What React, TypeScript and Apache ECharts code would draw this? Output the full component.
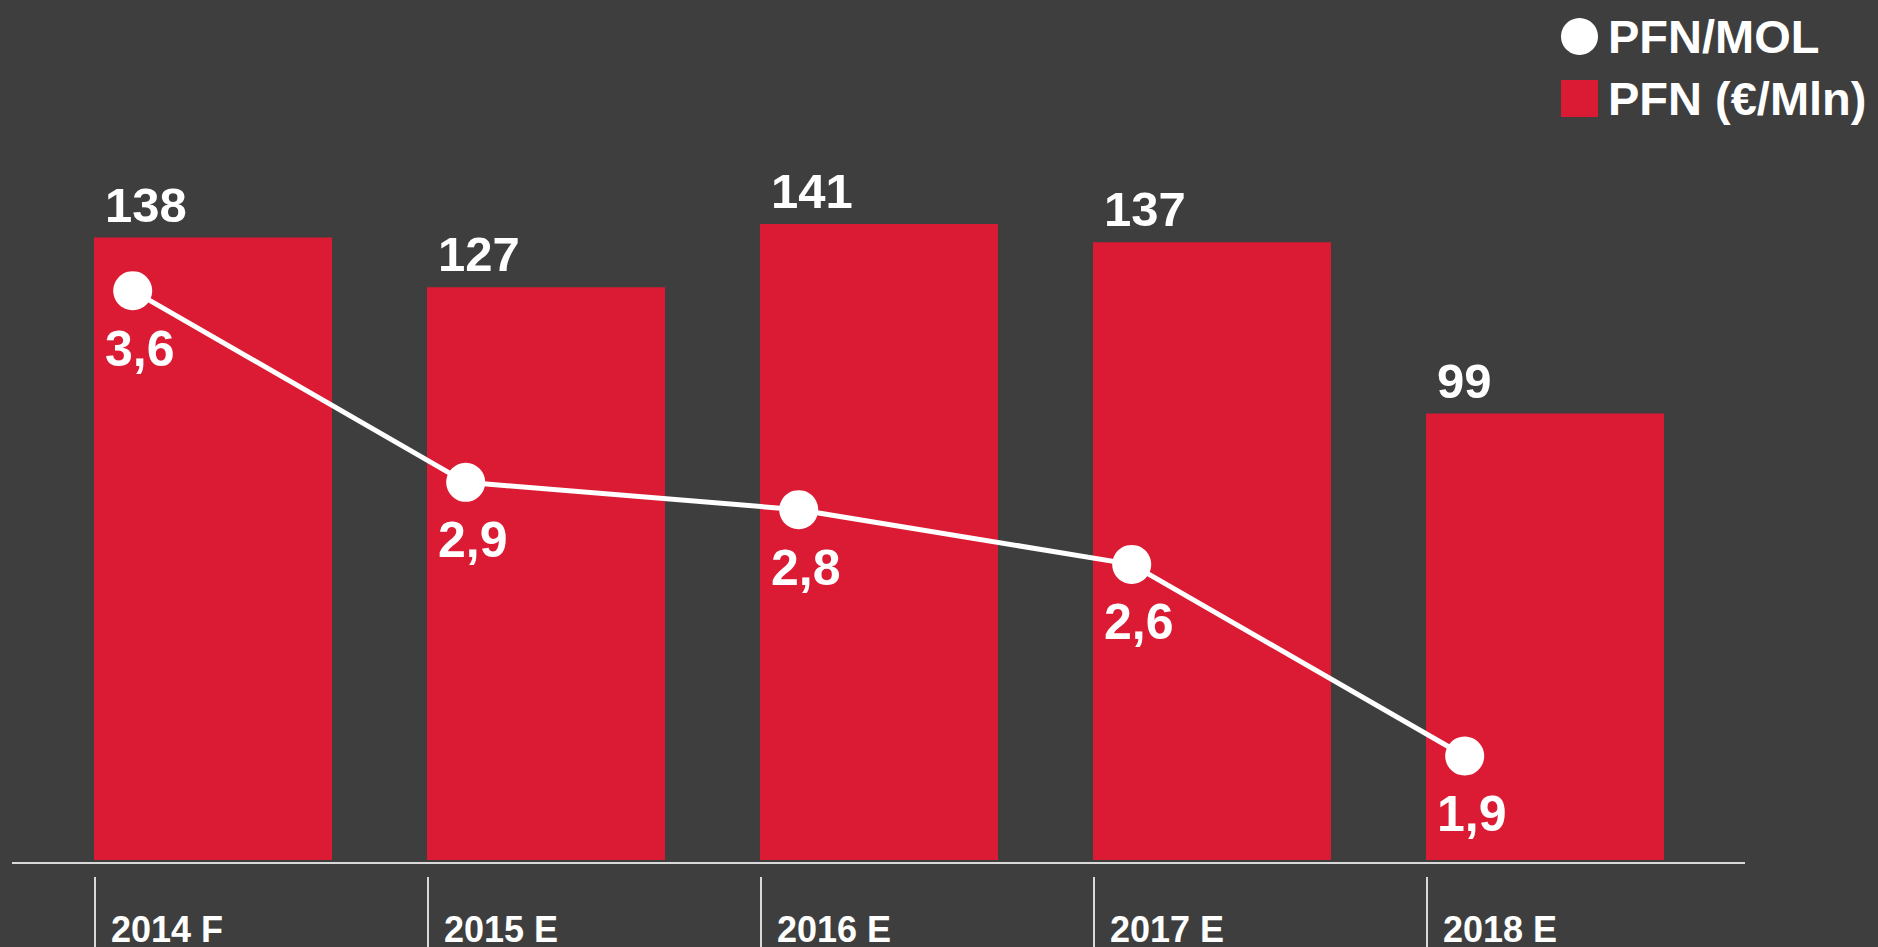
import React, { useEffect, useRef } from "react";
import * as echarts from "echarts";

const categories = ["2014 F", "2015 E", "2016 E", "2017 E", "2018 E"];
const pfnValues = [138, 127, 141, 137, 99];
const ratioValues = [3.6, 2.9, 2.8, 2.6, 1.9];

const BG = "#3e3e3e";
const RED = "#db1b33";
const FONT = "'Liberation Sans', Arial, Helvetica, sans-serif";
const BAR_WIDTH = 238;

export default function App() {
  const ref = useRef<HTMLDivElement>(null);

  useEffect(() => {
    if (!ref.current) return;
    const chart = echarts.init(ref.current, undefined, { renderer: "svg" });
    const option: any = {
      animation: false,
      backgroundColor: BG,
      textStyle: { fontFamily: FONT },
      legend: {
        orient: "vertical",
        left: 1556,
        top: 8,
        itemWidth: 37,
        itemHeight: 37,
        itemGap: 15,
        selectedMode: false,
        data: [
          { name: "PFN/MOL", icon: "circle" },
          { name: "PFN (€/Mln)", icon: "rect" },
        ],
        textStyle: {
          color: "#ffffff",
          fontSize: 47,
          fontWeight: "bold",
          fontFamily: FONT,
          padding: [0, 0, 0, 5],
        },
      },
      grid: [
        { left: 46.5, right: 166.5, top: 183.5, bottom: 84 },
        { left: 132.7, right: 413.3, top: 181.2, bottom: 81.5 },
      ],
      xAxis: [
        {
          type: "category",
          gridIndex: 0,
          data: categories,
          axisLine: { show: false },
          axisTick: { show: false },
          splitLine: { show: false },
          axisLabel: {
            margin: 55,
            formatter: (v: string) => "{a|" + v + "}",
            rich: {
              a: {
                width: 204,
                align: "left",
                color: "#ffffff",
                fontSize: 36,
                lineHeight: 28,
                fontWeight: "bold",
                fontFamily: FONT,
              },
            },
          },
        },
        {
          type: "category",
          gridIndex: 1,
          data: categories,
          boundaryGap: false,
          show: false,
        },
      ],
      yAxis: [
        { type: "value", gridIndex: 0, min: 0, max: 150, show: false },
        { type: "value", gridIndex: 1, min: 1.5, max: 4, show: false },
      ],
      graphic: [
        {
          type: "line",
          shape: { x1: 12, y1: 863, x2: 1745, y2: 863 },
          style: { stroke: "#d9d9d9", lineWidth: 2 },
          z: 10,
        },
      ],
      series: [
        {
          name: "PFN (€/Mln)",
          type: "bar",
          xAxisIndex: 0,
          yAxisIndex: 0,
          data: pfnValues,
          barWidth: BAR_WIDTH,
          itemStyle: { color: RED },
          label: {
            show: true,
            position: [11, -33],
            align: "left",
            verticalAlign: "middle",
            color: "#ffffff",
            fontSize: 49,
            fontWeight: "bold",
            fontFamily: FONT,
            formatter: "{c}",
          },
        },
        {
          name: "PFN/MOL",
          type: "line",
          xAxisIndex: 1,
          yAxisIndex: 1,
          data: ratioValues,
          symbol: "circle",
          symbolSize: 39,
          lineStyle: { color: "#ffffff", width: 5 },
          itemStyle: { color: "#ffffff" },
          z: 5,
          label: {
            show: true,
            position: [19.5 + 7, 19.5 + 58],
            align: "center",
            verticalAlign: "middle",
            color: "#ffffff",
            fontSize: 50,
            fontWeight: "bold",
            fontFamily: FONT,
            formatter: (p: any) => Number(p.value).toFixed(1).replace(".", ","),
          },
        },
        {
          type: "custom",
          xAxisIndex: 0,
          yAxisIndex: 0,
          data: categories.map((_, i) => i),
          silent: true,
          renderItem: (_params: any, api: any) => {
            const p = api.coord([api.value(0), 0]);
            const x = p[0] - BAR_WIDTH / 2 + 1;
            return {
              type: "line",
              shape: { x1: x, y1: p[1] + 17, x2: x, y2: p[1] + 90 },
              style: { stroke: "#d9d9d9", lineWidth: 2 },
            };
          },
        },
      ],
    };
    chart.setOption(option);
    return () => chart.dispose();
  }, []);

  return (
    <div
      ref={ref}
      style={{ position: "fixed", left: 0, top: 0, width: 1878, height: 947 }}
    />
  );
}
